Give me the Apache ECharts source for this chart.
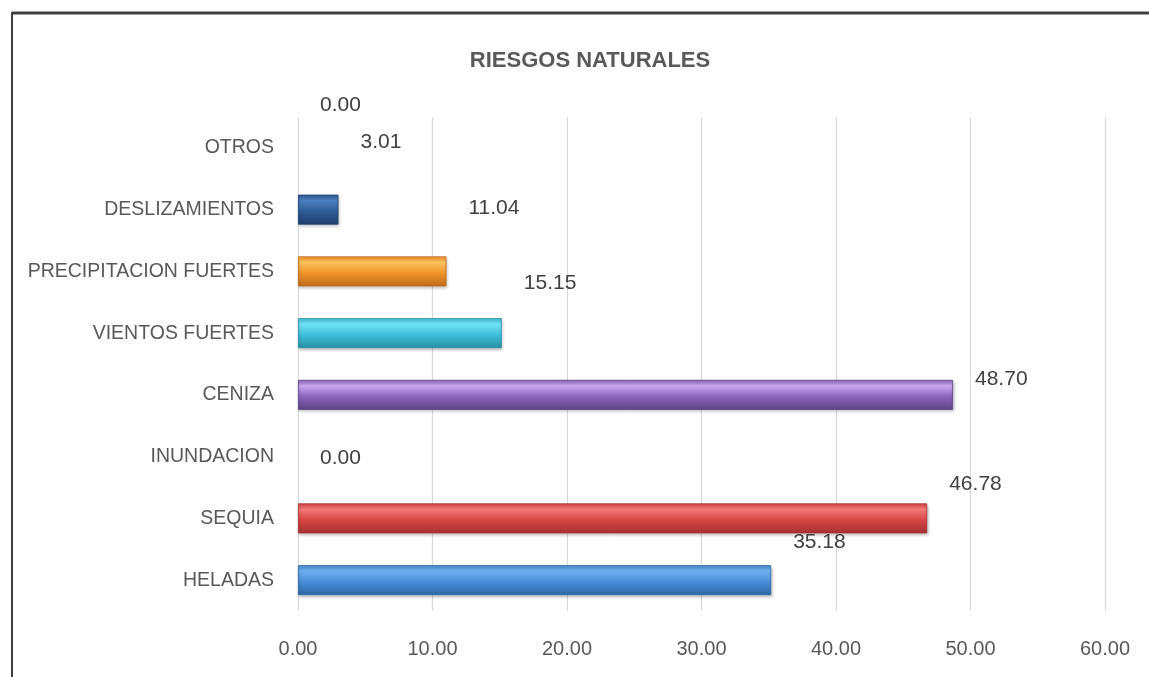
<!DOCTYPE html>
<html><head><meta charset="utf-8">
<script src="https://cdn.jsdelivr.net/npm/echarts@6/dist/echarts.min.js"></script>
<style>html,body{margin:0;padding:0;background:#fff}#c{width:1149px;height:677px}</style>
</head><body><div id="c"></div>
<script>
var categories = ['HELADAS','SEQUIA','INUNDACION','CENIZA','VIENTOS FUERTES','PRECIPITACION FUERTES','DESLIZAMIENTOS','OTROS'];
var values = [35.18, 46.78, 0.00, 48.70, 15.15, 11.04, 3.01, 0.00];
var xTicks = [0, 10, 20, 30, 40, 50, 60];
var barColors = [
  ['#6fb1f0','#4a8fd8','#2d68a6'],
  ['#f47a7a','#d84646','#a53131'],
  ['#9bd37a','#77b84f','#55893a'],
  ['#c9a8f0','#8c66bb','#5d4486'],
  ['#72e2f6','#3fc0db','#288fa5'],
  ['#fcc25c','#f0962c','#bf6a1a'],
  ['#4c80c2','#305d98','#1f3f6d'],
  ['#bbbbbb','#999999','#777777']
];
var labelShiftY = [-38, -34, 2, -16, -50, -63, -67, -43];

var FONT = '"Liberation Sans", Arial, sans-serif';
var chart = echarts.init(document.getElementById('c'), null, {renderer:'canvas'});
var data = values.map(function(v, i){
  var c = barColors[i];
  var nonZero = v > 0;
  return {
    value: v,
    itemStyle: {
      color: new echarts.graphic.LinearGradient(0,0,0,1,[
        {offset:0, color:c[1]},
        {offset:0.2, color:c[0]},
        {offset:0.55, color:c[1]},
        {offset:1, color:c[2]}
      ]),
      borderColor: c[2], borderWidth: nonZero ? 0.8 : 0,
      shadowColor: nonZero ? 'rgba(0,0,0,0.25)' : 'rgba(0,0,0,0)', shadowBlur: 3, shadowOffsetX: 1, shadowOffsetY: 2
    },
    label: { offset: [22, labelShiftY[i]] }
  };
});
chart.setOption({
  animation: false,
  title: {
    text: 'RIESGOS NATURALES', left: 585, top: 45, textAlign: 'center',
    textStyle: { fontFamily: FONT, fontSize: 22, fontWeight: 'bold', color: '#595959' }
  },
  grid: { left: 298, right: 44, top: 117, bottom: 66, containLabel: false },
  xAxis: {
    type: 'value', min: xTicks[0], max: xTicks[xTicks.length-1], interval: 10,
    axisLine: { show: false }, axisTick: { show: false },
    splitLine: { show: true, lineStyle: { color: '#d9d9d9', width: 1.2 } },
    axisLabel: { margin: 28, fontFamily: FONT, fontSize: 20, color: '#595959',
      formatter: function(v){ return v.toFixed(2); } }
  },
  yAxis: {
    type: 'category', data: categories,
    axisLine: { show: false }, axisTick: { show: false },
    axisLabel: { margin: 24, fontFamily: FONT, fontSize: 19.5, color: '#595959' }
  },
  series: [{
    type: 'bar', data: data, barWidth: 30,
    label: {
      show: true, position: 'right', distance: 0,
      fontFamily: FONT, fontSize: 21, color: '#404040',
      formatter: function(p){ return p.value.toFixed(2); }
    }
  }],
  graphic: [
    { type: 'line', shape: { x1: 12, y1: 13, x2: 1149, y2: 13 }, style: { stroke: '#404040', lineWidth: 3 } },
    { type: 'line', shape: { x1: 12, y1: 12, x2: 12, y2: 677 }, style: { stroke: '#404040', lineWidth: 2 } }
  ]
});
</script></body></html>
